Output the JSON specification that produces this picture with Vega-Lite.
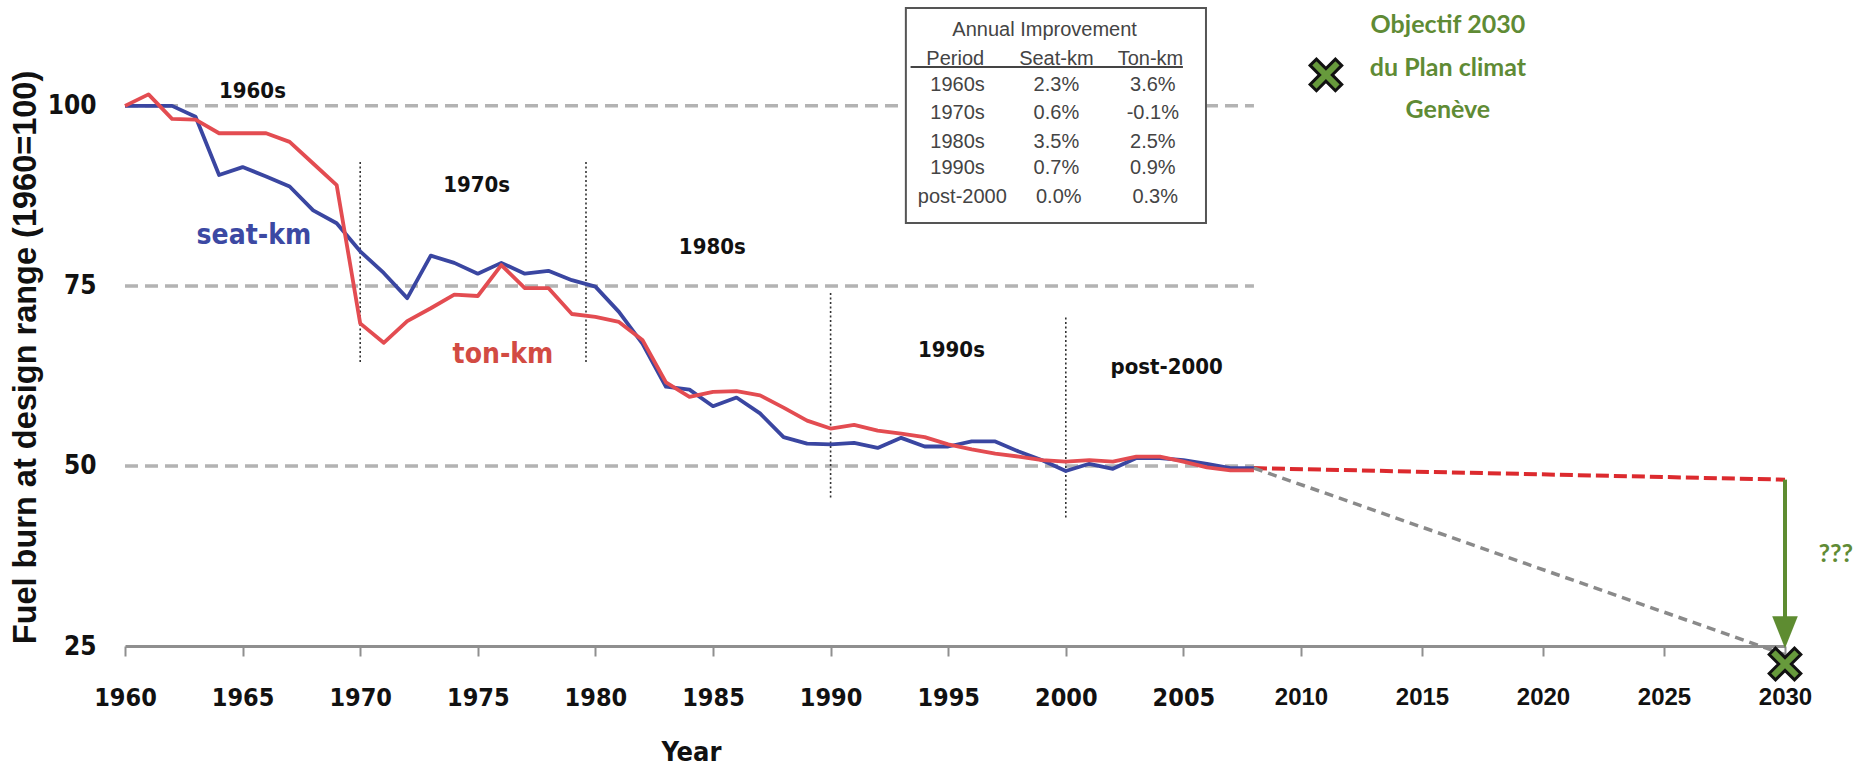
{
  "$schema": "https://vega.github.io/schema/vega-lite/v6.json",
  "width": 1660,
  "height": 646,
  "autosize": {"type": "none"},
  "padding": {"left": 125, "top": 0, "right": 75, "bottom": 123},
  "background": "white",
  "config": {"view": {"stroke": null}},
  "encoding": {
    "x": {
      "field": "year",
      "type": "quantitative",
      "scale": {"domain": [1960, 2010, 2030], "range": [0, 1176, 1660], "nice": false, "zero": false},
      "axis": {
        "title": "Year",
        "titleFont": "DejaVu Sans Condensed",
        "titleFontWeight": "bold",
        "titleFontSize": 27,
        "titleColor": "#111111",
        "titleX": 566,
        "titleY": 106,
        "titleAlign": "center",
        "titleBaseline": "middle",
        "values": [1960, 1965, 1970, 1975, 1980, 1985, 1990, 1995, 2000, 2005, 2010, 2015, 2020, 2025, 2030],
        "format": "d",
        "domainColor": "#8f8f8f",
        "domainWidth": 3,
        "tickColor": "#8f8f8f",
        "tickWidth": 2,
        "tickSize": 10,
        "labelFont": {"condition": {"test": "datum.value >= 2010", "value": "Liberation Sans"}, "value": "DejaVu Sans Condensed"},
        "labelFontSize": {"condition": {"test": "datum.value >= 2010", "value": 24}, "value": 25},
        "labelFontWeight": "bold",
        "labelColor": "#111111",
        "labelPadding": 41,
        "labelBaseline": "middle",
        "labelFlush": false,
        "labelOverlap": false,
        "grid": false
      }
    },
    "y": {
      "field": "v",
      "type": "quantitative",
      "scale": {"domain": [25, 114.7], "nice": false, "zero": false},
      "axis": {
        "title": "Fuel burn at design range (1960=100)",
        "titleFont": "Liberation Sans",
        "titleFontWeight": "bold",
        "titleFontSize": 32.5,
        "titleColor": "#111111",
        "titleAngle": -90,
        "titleX": -100,
        "titleY": 357,
        "titleAlign": "center",
        "titleBaseline": "middle",
        "values": [25, 50, 75, 100],
        "domain": false,
        "ticks": false,
        "grid": false,
        "labelFont": "DejaVu Sans Condensed",
        "labelFontWeight": "bold",
        "labelFontSize": 26,
        "labelColor": "#111111",
        "labelPadding": 29,
        "labelBaseline": "middle"
      }
    }
  },
  "layer": [
    {
      "data": {"values": [
        {"v": 100, "year": 1960, "year2": 2008},
        {"v": 75, "year": 1960, "year2": 2008},
        {"v": 50, "year": 1960, "year2": 2008}
      ]},
      "mark": {"type": "rule", "stroke": "#b3b3b3", "strokeWidth": 3.5, "strokeDash": [13, 7]},
      "encoding": {"x2": {"field": "year2"}}
    },
    {
      "data": {"values": [
        {"year": 1970, "v": 92.2, "v2": 64.4},
        {"year": 1979.6, "v": 92.2, "v2": 64.4},
        {"year": 1990, "v": 74.0, "v2": 45.6},
        {"year": 2000, "v": 70.6, "v2": 42.8}
      ]},
      "mark": {"type": "rule", "stroke": "#333333", "strokeWidth": 1.6, "strokeDash": [2, 2.5]},
      "encoding": {"y2": {"field": "v2"}}
    },
    {
      "data": {"values": [{"year": 1993.2, "year2": 2005.96, "v": 113.6, "v2": 83.75}]},
      "mark": {"type": "rect", "fill": "white", "stroke": "#555555", "strokeWidth": 2},
      "encoding": {"x2": {"field": "year2"}, "y2": {"field": "v2"}}
    },
    {
      "data": {"values": [
        {"series": "seat-km", "year": 1960, "v": 100},
        {"series": "seat-km", "year": 1961, "v": 100},
        {"series": "seat-km", "year": 1962, "v": 100},
        {"series": "seat-km", "year": 1963, "v": 98.5},
        {"series": "seat-km", "year": 1964, "v": 90.4},
        {"series": "seat-km", "year": 1965, "v": 91.5},
        {"series": "seat-km", "year": 1966, "v": 90.2},
        {"series": "seat-km", "year": 1967, "v": 88.8},
        {"series": "seat-km", "year": 1968, "v": 85.5},
        {"series": "seat-km", "year": 1969, "v": 83.7},
        {"series": "seat-km", "year": 1970, "v": 79.8},
        {"series": "seat-km", "year": 1971, "v": 76.8},
        {"series": "seat-km", "year": 1972, "v": 73.3},
        {"series": "seat-km", "year": 1973, "v": 79.2},
        {"series": "seat-km", "year": 1974, "v": 78.2},
        {"series": "seat-km", "year": 1975, "v": 76.7},
        {"series": "seat-km", "year": 1976, "v": 78.2},
        {"series": "seat-km", "year": 1977, "v": 76.7},
        {"series": "seat-km", "year": 1978, "v": 77.1},
        {"series": "seat-km", "year": 1979, "v": 75.8},
        {"series": "seat-km", "year": 1980, "v": 74.9},
        {"series": "seat-km", "year": 1981, "v": 71.4},
        {"series": "seat-km", "year": 1982, "v": 67.0},
        {"series": "seat-km", "year": 1983, "v": 61.0},
        {"series": "seat-km", "year": 1984, "v": 60.6},
        {"series": "seat-km", "year": 1985, "v": 58.3},
        {"series": "seat-km", "year": 1986, "v": 59.5},
        {"series": "seat-km", "year": 1987, "v": 57.3},
        {"series": "seat-km", "year": 1988, "v": 54.0},
        {"series": "seat-km", "year": 1989, "v": 53.1},
        {"series": "seat-km", "year": 1990, "v": 53.0},
        {"series": "seat-km", "year": 1991, "v": 53.2},
        {"series": "seat-km", "year": 1992, "v": 52.5},
        {"series": "seat-km", "year": 1993, "v": 53.9},
        {"series": "seat-km", "year": 1994, "v": 52.7},
        {"series": "seat-km", "year": 1995, "v": 52.7},
        {"series": "seat-km", "year": 1996, "v": 53.4},
        {"series": "seat-km", "year": 1997, "v": 53.4},
        {"series": "seat-km", "year": 1998, "v": 52.0},
        {"series": "seat-km", "year": 1999, "v": 50.8},
        {"series": "seat-km", "year": 2000, "v": 49.3},
        {"series": "seat-km", "year": 2001, "v": 50.3},
        {"series": "seat-km", "year": 2002, "v": 49.6},
        {"series": "seat-km", "year": 2003, "v": 51.1},
        {"series": "seat-km", "year": 2004, "v": 51.1},
        {"series": "seat-km", "year": 2005, "v": 50.8},
        {"series": "seat-km", "year": 2006, "v": 50.3},
        {"series": "seat-km", "year": 2007, "v": 49.7},
        {"series": "seat-km", "year": 2008, "v": 49.7},
        {"series": "ton-km", "year": 1960, "v": 100},
        {"series": "ton-km", "year": 1961, "v": 101.6},
        {"series": "ton-km", "year": 1962, "v": 98.2},
        {"series": "ton-km", "year": 1963, "v": 98.1},
        {"series": "ton-km", "year": 1964, "v": 96.2},
        {"series": "ton-km", "year": 1965, "v": 96.2},
        {"series": "ton-km", "year": 1966, "v": 96.2},
        {"series": "ton-km", "year": 1967, "v": 95.0},
        {"series": "ton-km", "year": 1968, "v": 92.0},
        {"series": "ton-km", "year": 1969, "v": 89.0},
        {"series": "ton-km", "year": 1970, "v": 69.8},
        {"series": "ton-km", "year": 1971, "v": 67.1},
        {"series": "ton-km", "year": 1972, "v": 70.1},
        {"series": "ton-km", "year": 1973, "v": 71.9},
        {"series": "ton-km", "year": 1974, "v": 73.8},
        {"series": "ton-km", "year": 1975, "v": 73.6},
        {"series": "ton-km", "year": 1976, "v": 77.9},
        {"series": "ton-km", "year": 1977, "v": 74.7},
        {"series": "ton-km", "year": 1978, "v": 74.7},
        {"series": "ton-km", "year": 1979, "v": 71.1},
        {"series": "ton-km", "year": 1980, "v": 70.7},
        {"series": "ton-km", "year": 1981, "v": 70.0},
        {"series": "ton-km", "year": 1982, "v": 67.5},
        {"series": "ton-km", "year": 1983, "v": 61.6},
        {"series": "ton-km", "year": 1984, "v": 59.6},
        {"series": "ton-km", "year": 1985, "v": 60.3},
        {"series": "ton-km", "year": 1986, "v": 60.4},
        {"series": "ton-km", "year": 1987, "v": 59.8},
        {"series": "ton-km", "year": 1988, "v": 58.1},
        {"series": "ton-km", "year": 1989, "v": 56.3},
        {"series": "ton-km", "year": 1990, "v": 55.2},
        {"series": "ton-km", "year": 1991, "v": 55.7},
        {"series": "ton-km", "year": 1992, "v": 54.9},
        {"series": "ton-km", "year": 1993, "v": 54.5},
        {"series": "ton-km", "year": 1994, "v": 54.0},
        {"series": "ton-km", "year": 1995, "v": 53.0},
        {"series": "ton-km", "year": 1996, "v": 52.3},
        {"series": "ton-km", "year": 1997, "v": 51.7},
        {"series": "ton-km", "year": 1998, "v": 51.3},
        {"series": "ton-km", "year": 1999, "v": 50.8},
        {"series": "ton-km", "year": 2000, "v": 50.6},
        {"series": "ton-km", "year": 2001, "v": 50.8},
        {"series": "ton-km", "year": 2002, "v": 50.6},
        {"series": "ton-km", "year": 2003, "v": 51.3},
        {"series": "ton-km", "year": 2004, "v": 51.3},
        {"series": "ton-km", "year": 2005, "v": 50.6},
        {"series": "ton-km", "year": 2006, "v": 49.8},
        {"series": "ton-km", "year": 2007, "v": 49.4},
        {"series": "ton-km", "year": 2008, "v": 49.4}
      ]},
      "mark": {"type": "line", "strokeWidth": 3.8, "strokeJoin": "round"},
      "encoding": {
        "color": {"field": "series", "type": "nominal", "scale": {"domain": ["seat-km", "ton-km"], "range": ["#3a46a1", "#e34c51"]}, "legend": null}
      }
    },
    {
      "data": {"values": [{"year": 2008, "v": 49.7}, {"year": 2030, "v": 48.1}]},
      "mark": {"type": "line", "stroke": "#dc2a2e", "strokeWidth": 4, "strokeDash": [13, 5]},
      "encoding": {}
    },
    {
      "data": {"values": [{"year": 2008, "v": 49.7}, {"year": 2030, "v": 23.8}]},
      "mark": {"type": "line", "stroke": "#8a8a8a", "strokeWidth": 3.5, "strokeDash": [9, 6]},
      "encoding": {}
    },
    {
      "data": {"values": [{"year": 2030, "v": 48.1, "v2": 29.0}]},
      "mark": {"type": "rule", "stroke": "#5e8c31", "strokeWidth": 4},
      "encoding": {"y2": {"field": "v2"}}
    },
    {
      "data": {"values": [{"year": 2030, "v": 26.9}]},
      "mark": {"type": "point", "shape": "M -0.8 -1 L 0.8 -1 L 0 1 Z", "size": 1024, "filled": true, "fill": "#5e8c31", "opacity": 1, "strokeWidth": 0},
      "encoding": {}
    },
    {
      "data": {"values": [{"year": 2030, "v": 22.5}, {"year": 2011.03, "v": 104.3}]},
      "mark": {"type": "point", "shape": "M -1 -0.6 L -0.6 -1 L 0 -0.4 L 0.6 -1 L 1 -0.6 L 0.4 0 L 1 0.6 L 0.6 1 L 0 0.4 L -0.6 1 L -1 0.6 L -0.4 0 Z", "size": 1000, "filled": true, "fill": "#679a3c", "stroke": "#111111", "strokeWidth": 3, "opacity": 1},
      "encoding": {}
    },
    {
      "data": {"values": [
        {"year": 1965.42, "v": 102.1, "label": "1960s"},
        {"year": 1974.95, "v": 89.0, "label": "1970s"},
        {"year": 1984.97, "v": 80.4, "label": "1980s"},
        {"year": 1995.14, "v": 66.1, "label": "1990s"},
        {"year": 2004.29, "v": 63.75, "label": "post-2000"}
      ]},
      "mark": {"type": "text", "font": "DejaVu Sans Condensed", "fontWeight": "bold", "fontSize": 22, "color": "#111111", "align": "center", "baseline": "middle"},
      "encoding": {"text": {"field": "label"}}
    },
    {
      "data": {"values": [{"year": 1965.48, "v": 81.9, "label": "seat-km"}]},
      "mark": {"type": "text", "font": "DejaVu Sans Condensed", "fontWeight": "bold", "fontSize": 28, "color": "#3c49a3", "align": "center", "baseline": "middle"},
      "encoding": {"text": {"field": "label"}}
    },
    {
      "data": {"values": [{"year": 1976.07, "v": 65.4, "label": "ton-km"}]},
      "mark": {"type": "text", "font": "DejaVu Sans Condensed", "fontWeight": "bold", "fontSize": 28, "color": "#d24b43", "align": "center", "baseline": "middle"},
      "encoding": {"text": {"field": "label"}}
    },
    {
      "data": {"values": [
        {"year": 2016.07, "v": 111.25, "label": "Objectif 2030"},
        {"year": 2016.07, "v": 105.3, "label": "du Plan climat"},
        {"year": 2016.07, "v": 99.4, "label": "Genève"},
        {"year": 2032.1, "v": 37.8, "label": "???"}
      ]},
      "mark": {"type": "text", "font": "Lato", "fontWeight": "bold", "fontSize": 25, "color": "#5f8b35", "align": "center", "baseline": "middle"},
      "encoding": {"text": {"field": "label"}}
    },
    {
      "data": {"values": [
        {"year": 1999.1, "v": 110.6, "label": "Annual Improvement"},
        {"year": 1995.3, "v": 106.5, "label": "Period"},
        {"year": 1999.6, "v": 106.5, "label": "Seat-km"},
        {"year": 2003.6, "v": 106.5, "label": "Ton-km"},
        {"year": 1995.4, "v": 102.9, "label": "1960s"},
        {"year": 1999.6, "v": 102.9, "label": "2.3%"},
        {"year": 2003.7, "v": 102.9, "label": "3.6%"},
        {"year": 1995.4, "v": 99.0, "label": "1970s"},
        {"year": 1999.6, "v": 99.0, "label": "0.6%"},
        {"year": 2003.7, "v": 99.0, "label": "-0.1%"},
        {"year": 1995.4, "v": 95.0, "label": "1980s"},
        {"year": 1999.6, "v": 95.0, "label": "3.5%"},
        {"year": 2003.7, "v": 95.0, "label": "2.5%"},
        {"year": 1995.4, "v": 91.4, "label": "1990s"},
        {"year": 1999.6, "v": 91.4, "label": "0.7%"},
        {"year": 2003.7, "v": 91.4, "label": "0.9%"},
        {"year": 1995.6, "v": 87.4, "label": "post-2000"},
        {"year": 1999.7, "v": 87.4, "label": "0.0%"},
        {"year": 2003.8, "v": 87.4, "label": "0.3%"}
      ]},
      "mark": {"type": "text", "font": "Liberation Sans", "fontSize": 20, "color": "#444444", "align": "center", "baseline": "middle"},
      "encoding": {"text": {"field": "label"}}
    },
    {
      "data": {"values": [{"year": 1993.4, "year2": 2004.98, "v": 105.4}]},
      "mark": {"type": "rule", "stroke": "#444444", "strokeWidth": 2},
      "encoding": {"x2": {"field": "year2"}}
    }
  ]
}
